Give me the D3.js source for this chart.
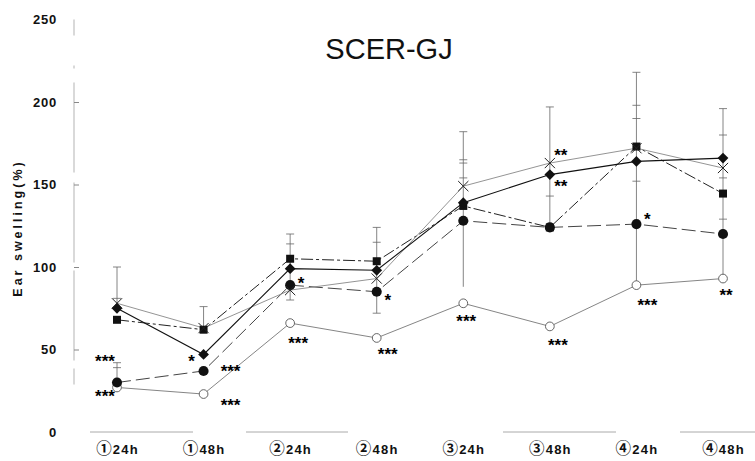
<!DOCTYPE html>
<html>
<head>
<meta charset="utf-8">
<script src="https://cdn.jsdelivr.net/npm/d3@7"></script>
<style>
  body { margin: 0; background: #fff; }
  svg { display: block; }
  .tick-label { font-family: "Liberation Sans", Arial, sans-serif; font-weight: bold; fill: #111; }
  .cat-label { font-family: "Liberation Sans", "Noto Sans CJK JP", sans-serif; font-weight: bold; fill: #111; }
  .circled { font-family: "Noto Sans CJK JP", sans-serif; font-weight: bold; }
  .star { font-family: "Liberation Sans", Arial, sans-serif; font-weight: bold; fill: #000; }
</style>
</head>
<body>
<div id="chart"></div>
<script>
// categories on the x axis
const categories = ["①24h", "①48h", "②24h", "②48h", "③24h", "③48h", "④24h", "④48h"];

// mean ear swelling (%) per group
const crossValues   = [78, 63, 86, 93, 149, 163, 172, 160];
const diamondValues = [75, 47, 99, 98, 139, 156, 164, 166];
const squareValues  = [68, 62, 105, 103.5, 137, 124, 173, 144.5];
const dotValues     = [30, 37, 89, 85, 128, 124, 126, 120];
const ringValues    = [27, 23, 66, 57, 78, 64, 89, 93];

// error bars: vertical extent per category and the cap positions on it
const errRange = [[78, 100], [63, 76], [80, 120], [72, 124], [88, 182], [124, 197], [89, 218], [93, 196]];
const errExtra = [[30, 42], null, null, null, null, null, null, null];
const errCaps = [[100, 81, 42, 39], [76], [120, 114, 80], [124, 115, 72], [182, 165, 163, 154], [197, 143], [218, 198, 190, 152], [196, 180, 154, 129]];

// significance marks
const stars = [
  { cat: 0, val: 45, text: "***", side: "left" },
  { cat: 0, val: 23.5, text: "***", side: "left" },
  { cat: 1, val: 45, text: "*", side: "left" },
  { cat: 1, val: 38.5, text: "***", side: "far" },
  { cat: 1, val: 18, text: "***", side: "far" },
  { cat: 2, val: 92, text: "*", side: "right" },
  { cat: 2, val: 56, text: "***", side: "below" },
  { cat: 3, val: 82, text: "*", side: "right" },
  { cat: 3, val: 49, text: "***", side: "right" },
  { cat: 4, val: 69, text: "***", side: "center" },
  { cat: 5, val: 169.5, text: "**", side: "right" },
  { cat: 5, val: 151, text: "**", side: "right" },
  { cat: 5, val: 54.5, text: "***", side: "below" },
  { cat: 6, val: 131, text: "*", side: "right" },
  { cat: 6, val: 79, text: "***", side: "right" },
  { cat: 7, val: 85, text: "**", side: "center" }
];

const yTicks = [0, 50, 100, 150, 200, 250];

const width = 755, height = 461;

const svg = d3.select("#chart").append("svg")
    .attr("width", width).attr("height", height);

const x = d3.scalePoint().domain(categories).range([117, 723]);
const y = d3.scaleLinear().domain([0, 250]).range([432, 19.5]);

// title
svg.append("text")
    .attr("x", 389).attr("y", 59)
    .attr("text-anchor", "middle")
    .style("font-family", "'Liberation Sans', Arial, sans-serif")
    .style("font-size", "29px")
    .style("fill", "#111")
    .text("SCER-GJ");

// y axis (a scanned, broken looking line)
svg.append("line")
    .attr("x1", 74).attr("x2", 74)
    .attr("y1", y(250)).attr("y2", y(25))
    .attr("stroke", "#aaa").attr("stroke-width", 0.9)
    .attr("stroke-dasharray", "16,30,3,14,90,10,80,8,90,8");

const yAxis = d3.axisRight(y).tickValues(yTicks.filter(d => d > 0 && d < 250)).tickSize(5).tickFormat("");
svg.append("g").attr("transform", "translate(74,0)").call(yAxis)
    .call(g => g.select(".domain").remove())
    .call(g => g.selectAll(".tick line").attr("stroke", "#888"));

svg.append("g").selectAll("text").data(yTicks).join("text")
    .attr("class", "tick-label")
    .attr("x", 57).attr("y", d => y(d))
    .attr("dy", "0.36em")
    .attr("text-anchor", "end")
    .style("font-size", "13px")
    .style("letter-spacing", "0.8px")
    .text(d => d);

svg.append("text")
    .attr("class", "tick-label")
    .attr("transform", "translate(22,228) rotate(-90)")
    .attr("text-anchor", "middle")
    .style("font-size", "12.5px")
    .style("letter-spacing", "3px")
    .text("Ear  swelling(%)");

// x axis (light, partly faded)
svg.append("line")
    .attr("x1", 90).attr("x2", 755)
    .attr("y1", y(0)).attr("y2", y(0))
    .attr("stroke", "#aaa").attr("stroke-width", 1)
    .attr("stroke-dasharray", "103,53,102,155,113,64,75");

const xAxis = d3.axisBottom(x).tickSize(0).tickPadding(0);
svg.append("g").attr("transform", "translate(0,445)").call(xAxis)
    .call(g => g.select(".domain").remove())
    .call(g => g.selectAll(".tick text")
        .attr("class", "cat-label")
        .attr("dy", "0.71em")
        .style("font-size", "13px")
        .style("letter-spacing", "1.2px")
        .text(null)
        .call(t => {
          t.append("tspan").attr("class", "circled").style("font-size", "15.5px")
              .text(d => d.slice(0, 1));
          t.append("tspan").text(d => d.slice(1));
        }));

// error bars
const eb = svg.append("g").attr("stroke", "#666").attr("stroke-width", 0.8);
categories.forEach((c, i) => {
  const cx = x(c);
  [errRange[i], errExtra[i]].filter(Boolean).forEach(r => {
    eb.append("line").attr("x1", cx).attr("x2", cx)
      .attr("y1", y(r[0])).attr("y2", y(r[1]));
  });
  errCaps[i].forEach(v => {
    eb.append("line").attr("x1", cx - 4).attr("x2", cx + 4)
      .attr("y1", y(v)).attr("y2", y(v));
  });
});

const series = [
  { values: ringValues,    stroke: "#777", width: 0.9, dash: null },
  { values: dotValues,     stroke: "#444", width: 1,   dash: "14,5" },
  { values: squareValues,  stroke: "#222", width: 1,   dash: "12,3,3,3" },
  { values: crossValues,   stroke: "#888", width: 0.9, dash: null },
  { values: diamondValues, stroke: "#111", width: 1.1, dash: null }
];

const line = d3.line().x((d, i) => x(categories[i])).y(d => y(d));

svg.append("g").selectAll("path").data(series).join("path")
    .attr("d", d => line(d.values))
    .attr("fill", "none")
    .attr("stroke", d => d.stroke)
    .attr("stroke-width", d => d.width)
    .attr("stroke-dasharray", d => d.dash);

// markers
function markers(values, type, size, fill, stroke, sw, rot) {
  svg.append("g").selectAll("path").data(values).join("path")
      .attr("transform", (d, i) => `translate(${x(categories[i])},${y(d)}) rotate(${rot || 0})`)
      .attr("d", d3.symbol().type(type).size(size))
      .attr("fill", fill)
      .attr("stroke", stroke)
      .attr("stroke-width", sw);
}
markers(ringValues, d3.symbolCircle, 60, "#fff", "#555", 0.9);
markers(dotValues, d3.symbolCircle, 80, "#111", "none", 0);
markers(squareValues, d3.symbolSquare, 64, "#111", "none", 0);
markers(diamondValues, d3.symbolSquare, 58, "#111", "none", 0, 45);
markers(crossValues, d3.symbolTimes, 70, "none", "#222", 1);

// significance stars
const sideDx = { left: -12, right: 11, below: 8, center: 3, far: 27 };
svg.append("g").selectAll("text").data(stars).join("text")
    .attr("class", "star")
    .attr("x", d => x(categories[d.cat]) + sideDx[d.side])
    .attr("y", d => y(d.val) + 9)
    .attr("text-anchor", "middle")
    .style("font-size", "17px")
    .style("letter-spacing", "0px")
    .text(d => d.text);
</script>
</body>
</html>
